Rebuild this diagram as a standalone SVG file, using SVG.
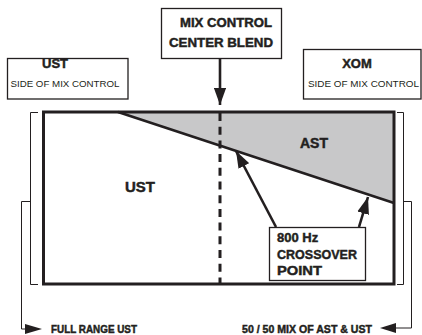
<svg xmlns="http://www.w3.org/2000/svg" width="422" height="335" viewBox="0 0 422 335">
<defs>
<style>
text{font-family:"Liberation Sans",Arial,sans-serif;fill:#231f20}
.b{font-weight:bold;stroke:#231f20;stroke-width:0.45}
.box{fill:#fff;stroke:#231f20;stroke-width:1.3}
.thin{fill:none;stroke:#231f20;stroke-width:1}
</style>
<marker id="ah" viewBox="0 0 14 10" refX="14" refY="5" markerWidth="6.5" markerHeight="4.8" orient="auto" markerUnits="strokeWidth"><path d="M0,0L14,5L0,10z" fill="#231f20"/></marker>
</defs>
<rect width="422" height="335" fill="#fff"/>
<g id="chart">
<polygon points="118,112 394,112 394,203" fill="#c8c8c9"/>
<line x1="118" y1="112" x2="394" y2="203" stroke="#231f20" stroke-width="2.6"/>
<rect x="43.5" y="112" width="350.5" height="172" fill="none" stroke="#231f20" stroke-width="3"/>
<line x1="220" y1="113" x2="220" y2="284" stroke="#231f20" stroke-width="3" stroke-dasharray="8,5.7"/>
<text class="b" x="140" y="192" font-size="15" text-anchor="middle">UST</text>
<text class="b" x="314" y="148" font-size="14" text-anchor="middle">AST</text>
</g>
<g id="mix-control">
<rect class="box" x="161.5" y="8.5" width="120" height="50"/>
<text class="b" x="226" y="27" font-size="12.5" text-anchor="middle" textLength="92" lengthAdjust="spacingAndGlyphs">MIX CONTROL</text>
<text class="b" x="221" y="47" font-size="12.5" text-anchor="middle" textLength="104" lengthAdjust="spacingAndGlyphs">CENTER BLEND</text>
</g>
<g id="ust-side">
<rect class="box" x="7.5" y="58.5" width="120.5" height="40.5"/>
<text class="b" x="55" y="68" font-size="13" text-anchor="middle">UST</text>
<text x="65" y="87" font-size="9.5" text-anchor="middle" textLength="109" lengthAdjust="spacingAndGlyphs">SIDE OF MIX CONTROL</text>
</g>
<g id="xom-side">
<rect class="box" x="303.5" y="49.5" width="117.5" height="49.5"/>
<text class="b" x="357" y="68" font-size="13" text-anchor="middle">XOM</text>
<text x="363.5" y="87" font-size="9.5" text-anchor="middle" textLength="111" lengthAdjust="spacingAndGlyphs">SIDE OF MIX CONTROL</text>
</g>
<g id="crossover">
<rect class="box" x="269.5" y="227.5" width="96" height="53"/>
<text class="b" x="277" y="242" font-size="13">800 Hz</text>
<text class="b" x="277" y="259" font-size="13" textLength="80" lengthAdjust="spacingAndGlyphs">CROSSOVER</text>
<text class="b" x="277" y="275" font-size="13" textLength="45" lengthAdjust="spacingAndGlyphs">POINT</text>
</g>
<g id="labels">
<text class="b" x="51" y="333" font-size="10.5" textLength="86" lengthAdjust="spacingAndGlyphs">FULL RANGE UST</text>
<text class="b" x="242" y="332.5" font-size="10.5" textLength="130" lengthAdjust="spacingAndGlyphs">50 / 50 MIX OF AST &amp; UST</text>
</g>
<g id="connectors">
<line x1="220" y1="58.5" x2="220" y2="105" stroke="#231f20" stroke-width="2.6" marker-end="url(#ah)"/>
<line x1="276" y1="227" x2="236" y2="151" stroke="#231f20" stroke-width="2.6" marker-end="url(#ah)"/>
<line x1="359" y1="227" x2="368" y2="197" stroke="#231f20" stroke-width="2.6" marker-end="url(#ah)"/>
<polyline class="thin" points="38,112.5 30.5,112.5 30.5,284.5 38,284.5"/>
<polyline class="thin" points="30.5,201.5 21.5,201.5 21.5,329 26,329"/>
<path d="M25,324L42,329L25,334z" fill="#231f20"/>
<polyline class="thin" points="397,112.5 403.5,112.5 403.5,284.5 397,284.5"/>
<polyline class="thin" points="403.5,201.5 411.5,201.5 411.5,328 395,328"/>
<path d="M396,323L380,328L396,333z" fill="#231f20"/>
</g>
</svg>
